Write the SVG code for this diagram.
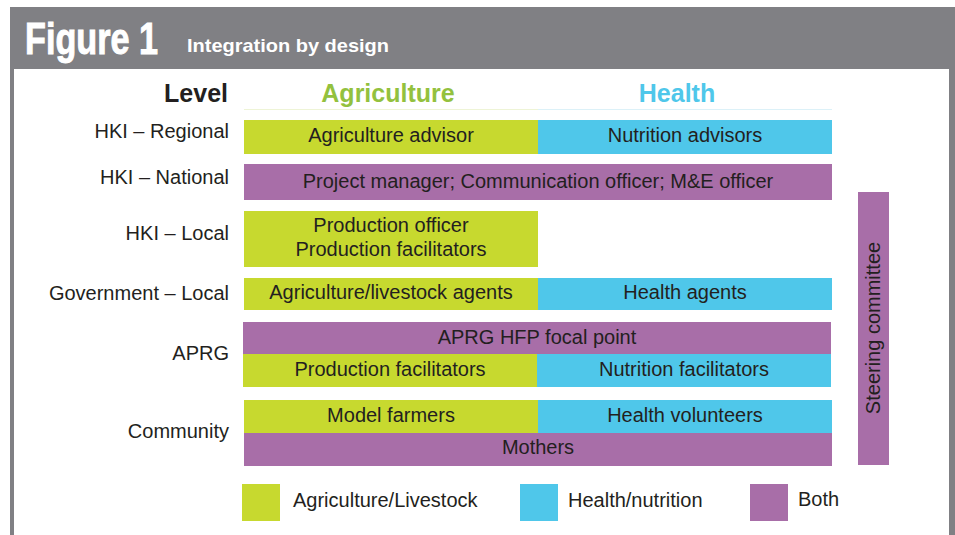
<svg xmlns="http://www.w3.org/2000/svg" width="955" height="535" viewBox="0 0 955 535">
<style>
.t{font-family:"Liberation Sans",Arial,sans-serif;font-size:20px;fill:#231f20}
.c{text-anchor:middle}
.r{text-anchor:end}
.ag{fill:#c7d92f}
.he{fill:#4fc7ea}
.bo{fill:#a86ea8}
.hd{font-family:"Liberation Sans",Arial,sans-serif;font-weight:bold;font-size:25px}
</style>
<rect x="0" y="0" width="955" height="535" fill="#ffffff"/>
<g id="frame">
<rect x="10" y="7" width="945" height="62" fill="#808084"/>
<rect x="10" y="69" width="4" height="466" fill="#808084"/>
<rect x="949" y="69" width="6" height="466" fill="#808084"/>
<text transform="translate(25 54) scale(0.76 1)" x="0" y="0" font-family="'Liberation Sans',Arial,sans-serif" font-weight="bold" font-size="45" fill="#ffffff" stroke="#ffffff" stroke-width="1">Figure 1</text>
<text x="187" y="52" font-family="'Liberation Sans',Arial,sans-serif" font-weight="bold" font-size="19" fill="#ffffff" textLength="202" lengthAdjust="spacingAndGlyphs">Integration by design</text>
</g>
<g id="headers">
<text class="hd r" x="228" y="102" fill="#231f20">Level</text>
<text class="hd c" x="388" y="102" fill="#93c13e">Agriculture</text>
<text class="hd c" x="677" y="102" fill="#4fc7ea">Health</text>
<line x1="244" y1="109.5" x2="538" y2="109.5" stroke="#eef4d6" stroke-width="1"/>
<line x1="538" y1="109.5" x2="832" y2="109.5" stroke="#dcf1f8" stroke-width="1"/>
</g>
<g id="levels">
<text class="t r" x="229" y="138">HKI – Regional</text>
<text class="t r" x="229" y="184">HKI – National</text>
<text class="t r" x="229" y="240">HKI – Local</text>
<text class="t r" x="229" y="300">Government – Local</text>
<text class="t r" x="229" y="360">APRG</text>
<text class="t r" x="229" y="438">Community</text>
</g>
<g id="row-regional">
<rect class="ag" x="244" y="120" width="294" height="34"/>
<rect class="he" x="538" y="120" width="294" height="34"/>
<text class="t c" x="391" y="142">Agriculture advisor</text>
<text class="t c" x="685" y="142">Nutrition advisors</text>
</g>
<g id="row-national">
<rect class="bo" x="244" y="164" width="588" height="36"/>
<text class="t c" x="538" y="188">Project manager; Communication officer; M&amp;E officer</text>
</g>
<g id="row-local">
<rect class="ag" x="244" y="211" width="294" height="56"/>
<text class="t c" x="391" y="232">Production officer</text>
<text class="t c" x="391" y="256">Production facilitators</text>
</g>
<g id="row-government">
<rect class="ag" x="244" y="278" width="294" height="32"/>
<rect class="he" x="538" y="278" width="294" height="32"/>
<text class="t c" x="391" y="299">Agriculture/livestock agents</text>
<text class="t c" x="685" y="299">Health agents</text>
</g>
<g id="row-aprg">
<rect class="bo" x="243" y="322" width="588" height="32"/>
<rect class="ag" x="243" y="354" width="294" height="33"/>
<rect class="he" x="537" y="354" width="294" height="33"/>
<text class="t c" x="537" y="344">APRG HFP focal point</text>
<text class="t c" x="390" y="376">Production facilitators</text>
<text class="t c" x="684" y="376">Nutrition facilitators</text>
</g>
<g id="row-community">
<rect class="ag" x="244" y="400" width="294" height="33"/>
<rect class="he" x="538" y="400" width="294" height="33"/>
<rect class="bo" x="244" y="433" width="588" height="33"/>
<text class="t c" x="391" y="422">Model farmers</text>
<text class="t c" x="685" y="422">Health volunteers</text>
<text class="t c" x="538" y="454">Mothers</text>
</g>
<g id="steering">
<rect class="bo" x="858" y="192" width="31" height="273"/>
<text class="t c" transform="translate(880 328) rotate(-90)" x="0" y="0">Steering committee</text>
</g>
<g id="legend">
<rect class="ag" x="242" y="484" width="38" height="37"/>
<text class="t" x="293" y="507">Agriculture/Livestock</text>
<rect class="he" x="520" y="484" width="38" height="37"/>
<text class="t" x="568" y="507">Health/nutrition</text>
<rect class="bo" x="750" y="484" width="38" height="37"/>
<text class="t" x="798" y="506">Both</text>
</g>
</svg>
